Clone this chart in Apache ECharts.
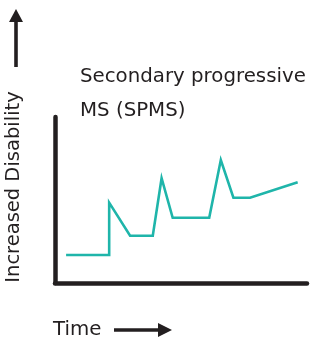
<!DOCTYPE html>
<html>
<head>
<meta charset="utf-8">
<script src="https://cdn.jsdelivr.net/npm/echarts@6/dist/echarts.min.js"></script>
<style>
  html, body { margin: 0; padding: 0; background: #fff; }
  #chart { width: 317px; height: 341px; }
</style>
</head>
<body>
<div id="chart"></div>
<script>
// time (0-100) and disability (0-100)
const timePoints = [4.4, 21.5, 21.5, 29.8, 38.8, 42.3, 46.7, 61.2, 65.8, 70.8, 77.4, 96.3]
const disability = [16.9, 16.9, 48.4, 28.5, 28.5, 63.1, 39.3, 39.3, 74.1, 51.4, 51.4, 60.7]
const titleLines = ['Secondary progressive', 'MS (SPMS)']
const yName = 'Increased Disability'
const xName = 'Time'

const ink = '#231f20'
const font = '"DejaVu Sans", sans-serif'

const chart = echarts.init(document.getElementById('chart'))
chart.setOption({
  animation: false,
  grid: { left: 55, right: 10, top: 117, bottom: 58 },
  xAxis: {
    type: 'value', min: 0, max: 100,
    axisLine: { show: true, onZero: false, lineStyle: { color: ink, width: 4.5, cap: 'round' } },
    axisTick: { show: false }, axisLabel: { show: false }, splitLine: { show: false }
  },
  yAxis: {
    type: 'value', min: 0, max: 100,
    axisLine: { show: true, onZero: false, lineStyle: { color: ink, width: 4.5, cap: 'round' } },
    axisTick: { show: false }, axisLabel: { show: false }, splitLine: { show: false }
  },
  series: [{
    type: 'line',
    data: timePoints.map((t, i) => [t, disability[i]]),
    symbol: 'none',
    lineStyle: { color: '#1fb5aa', width: 2.6, join: 'miter' }
  }],
  graphic: [
    // title
    { type: 'text', left: 80, top: 67, style: { text: titleLines[0], font: '19.8px ' + font, fill: ink } },
    { type: 'text', left: 80, top: 101, style: { text: titleLines[1], font: '19.8px ' + font, fill: ink } },
    // y name, rotated
    {
      type: 'text', x: 14, y: 187, rotation: Math.PI / 2,
      style: { text: yName, font: '19.5px ' + font, fill: ink, align: 'center', verticalAlign: 'middle' }
    },
    // y arrow
    { type: 'line', shape: { x1: 16, y1: 67, x2: 16, y2: 20 }, style: { stroke: ink, lineWidth: 3.6 } },
    { type: 'polygon', shape: { points: [[16, 9], [9, 22], [23, 22]] }, style: { fill: ink } },
    // x name
    { type: 'text', x: 53, y: 330, style: { text: xName, font: '19.8px ' + font, fill: ink, verticalAlign: 'middle' } },
    // x arrow
    { type: 'line', shape: { x1: 114, y1: 330, x2: 160, y2: 330 }, style: { stroke: ink, lineWidth: 3.6 } },
    { type: 'polygon', shape: { points: [[172, 330], [158, 323], [158, 337]] }, style: { fill: ink } }
  ]
})
</script>
</body>
</html>
